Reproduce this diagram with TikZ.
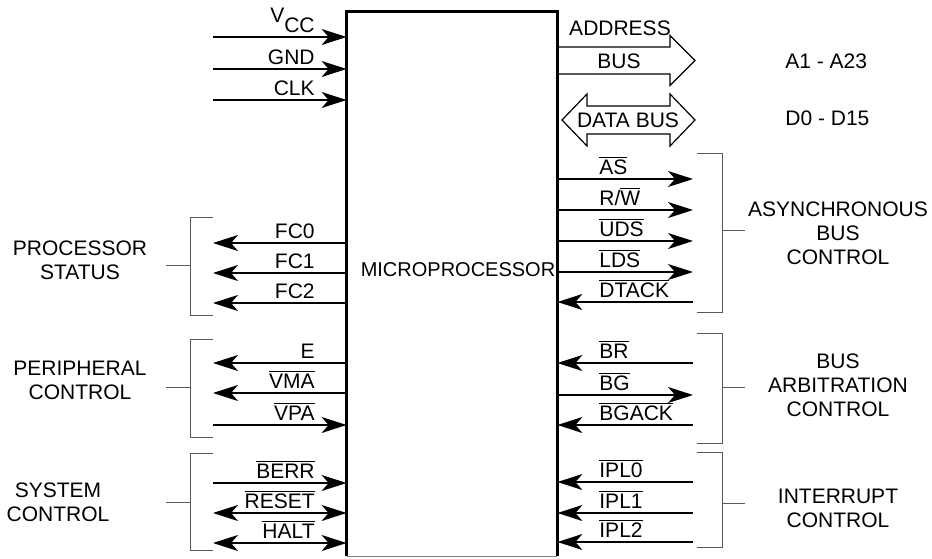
\documentclass[tikz,border=0pt]{standalone}
\usepackage{fontspec}
\setmainfont{Liberation Sans}
\usetikzlibrary{arrows.meta,positioning}

\newcommand{\ovl}[1]{$\overline{\mbox{#1}}$}

\tikzset{
  sig/.style={line width=0.6pt, >={Stealth[length=12.5pt,width=8pt,inset=3.5pt]}},
  sigtext/.style={inner sep=0pt, font=\fontsize{10.5}{12}\selectfont},
  grouptext/.style={align=center, inner sep=0pt, font=\fontsize{10.5}{12}\selectfont},
  brace/.style={line width=0.5pt, black!65},
  bus/.style={line width=0.6pt, line join=miter},
}

\begin{document}
\begin{tikzpicture}[x=0.5pt, y=-0.5pt]
\useasboundingbox (0,0) rectangle (932,558);

% The chip
\node[minimum width=105pt, minimum height=272pt, inner sep=0pt] (chip) at (452,284) {};
\draw[line width=1.4pt] (chip.south west) -- (chip.north west) -- (chip.north east) -- (chip.south east);
\draw[line width=0.5pt, black!50] (chip.south west) -- (chip.south east);
\node[sigtext, font=\fontsize{10}{12}\selectfont] (mp) at (458,270) {MICROPROCESSOR};

% Signals on the left side
\foreach \y/\dir/\txt [count=\i] in {
  37/->/{\raisebox{5pt}{V}CC},
  69/->/GND,
  100/->/CLK,
  243/<-/FC0,
  273/<-/FC1,
  303/<-/FC2,
  363/<-/E,
  393/<-/\ovl{VMA},
  425/->/\ovl{VPA},
  483/->/\ovl{BERR},
  513/<->/\ovl{RESET},
  543/<->/\ovl{HALT}}
{
  \coordinate (lf\i) at (213,\y);
  \draw[sig,\dir] (lf\i) -- (chip.west |- lf\i);
  \node[sigtext, anchor=base east] (lt\i) at (315,\y-4.5) {\txt};
}

% Signals on the right side
\foreach \y/\dir/\txt [count=\i] in {
  179/->/\ovl{AS},
  210/->/{R/\ovl{W}},
  241/->/\ovl{UDS},
  272/->/\ovl{LDS},
  302/<-/\ovl{DTACK},
  363/<-/\ovl{BR},
  395/->/\ovl{BG},
  425/<-/\ovl{BGACK},
  482/<-/\ovl{IPL0},
  513/<-/\ovl{IPL1},
  542/<-/\ovl{IPL2}}
{
  \coordinate (rf\i) at (693,\y);
  \draw[sig,\dir] (chip.east |- rf\i) -- (rf\i);
  \node[sigtext, anchor=base west] (rt\i) at (599,\y-4.5) {\txt};
}

% Brackets
\foreach \ya/\yb/\yc in {217/315/265, 339/437/387, 453/550/502}
  \draw[brace] (213,\ya) -- (190,\ya) -- (190,\yb) -- (213,\yb) (190,\yc) -- (166,\yc);
\foreach \ya/\yb/\yc in {153/312/230, 333/443/387, 452/547/503}
  \draw[brace] (697,\ya) -- (722,\ya) -- (722,\yb) -- (697,\yb) (722,\yc) -- (745,\yc);

% Group names
\node[grouptext] (ps) at (80,260) {PROCESSOR\\STATUS};
\node[grouptext] (pc) at (80,380) {PERIPHERAL\\CONTROL};
\node[grouptext] (sc) at (58,502) {SYSTEM\\CONTROL};
\node[grouptext] (abc) at (838,233) {ASYNCHRONOUS\\BUS\\CONTROL};
\node[grouptext] (bac) at (838,385) {BUS\\ARBITRATION\\CONTROL};
\node[grouptext] (ic) at (838,508) {INTERRUPT\\CONTROL};

% Address and data bus
\draw[bus] (557,47) -- (670,47) -- (670,35.5) -- (695,60.5) -- (670,85.5) -- (670,74) -- (557,74);
\node[sigtext] (addr) at (620,28) {ADDRESS};
\node[sigtext] (abus) at (619,61) {BUS};
\draw[bus] (562,120) -- (587,94) -- (587,106) -- (670,106) -- (670,94) -- (695,120)
  -- (670,146) -- (670,134) -- (587,134) -- (587,146) -- cycle;
\node[sigtext] (dbus) at (628,120) {DATA BUS};
\node[sigtext, anchor=west] (alines) at (785,61) {A1 - A23};
\node[sigtext, anchor=west] (dlines) at (785,118) {D0 - D15};

\end{tikzpicture}
\end{document}
